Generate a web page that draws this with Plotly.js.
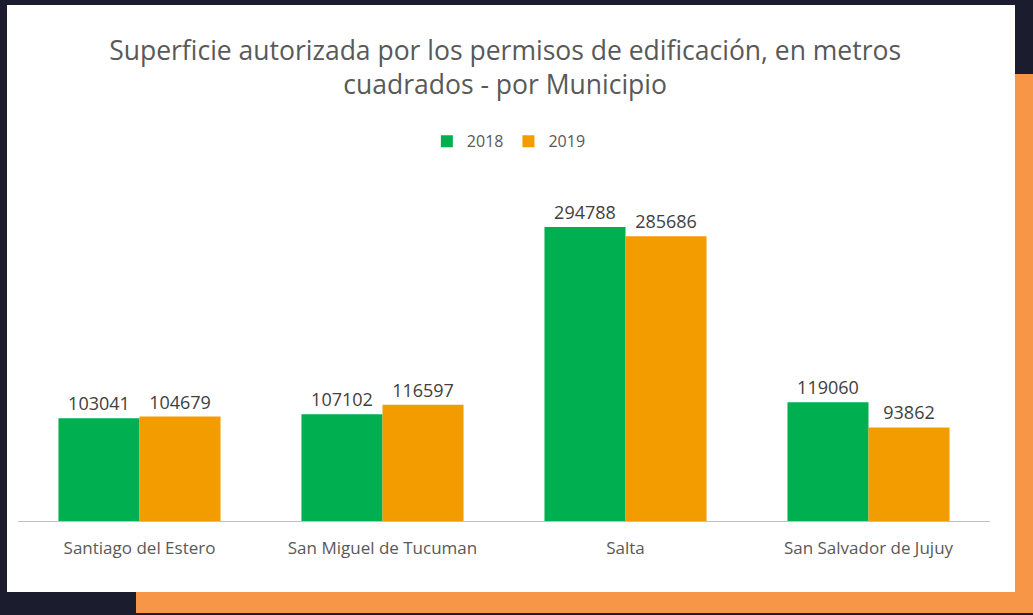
<!DOCTYPE html>
<html>
<head>
<meta charset="utf-8">
<script src="https://cdn.plot.ly/plotly-3.0.1.min.js"></script>
<style>
  html, body { margin: 0; padding: 0; background: #1b1d2e; width: 1033px; height: 615px; overflow: hidden; }
  #orange { position: absolute; left: 136px; top: 74px; width: 897px; height: 539px; background: #f79646; }
  #card { position: absolute; left: 7px; top: 5px; width: 1008px; height: 587px; background: #ffffff; }
  #chart { position: absolute; left: 0; top: 0; width: 1033px; height: 615px; }
</style>
</head>
<body>
<div id="orange"></div>
<div id="card"></div>
<div id="chart"></div>
<script>
const municipios = ["Santiago del Estero", "San Miguel de Tucuman", "Salta", "San Salvador de Jujuy"];
const valores2018 = [103041, 107102, 294788, 119060];
const valores2019 = [104679, 116597, 285686, 93862];

const fontFamily = "'Open Sans', Lato, sans-serif";

const traces = [
  {
    type: "bar",
    name: "2018",
    x: municipios,
    y: valores2018,
    marker: { color: "#00b050" },
    text: valores2018.map(String),
    textposition: "outside",
    textfont: { size: 18, color: "#404040", family: fontFamily },
    cliponaxis: false,
    hoverinfo: "x+y",
  },
  {
    type: "bar",
    name: "2019",
    x: municipios,
    y: valores2019,
    marker: { color: "#f39c00" },
    text: valores2019.map(String),
    textposition: "outside",
    textfont: { size: 18, color: "#404040", family: fontFamily },
    cliponaxis: false,
    hoverinfo: "x+y",
  },
];

const layout = {
  width: 1033,
  height: 615,
  paper_bgcolor: "rgba(0,0,0,0)",
  plot_bgcolor: "rgba(0,0,0,0)",
  margin: { l: 18, r: 43, t: 172, b: 94 },
  font: { family: fontFamily, color: "#595959" },
  title: {
    text: "Superficie autorizada por los permisos de edificación, en metros<br>cuadrados - por Municipio",
    font: { size: 26.5, color: "#595959", family: fontFamily, lineposition: "none" },
    xref: "container",
    yref: "container",
    x: 0.489,
    xanchor: "center",
    y: 1 - 60 / 615,
    yanchor: "top",
  },
  barmode: "group",
  bargap: 0.333,
  bargroupgap: 0,
  showlegend: true,
  legend: {
    orientation: "h",
    x: 0.505,
    xanchor: "center",
    y: 1.088,
    yanchor: "middle",
    font: { size: 16, color: "#595959", family: fontFamily },
    itemwidth: 30,
  },
  xaxis: {
    showline: true,
    linecolor: "#bfbfbf",
    linewidth: 1,
    ticks: "",
    ticklabelstandoff: 12,
    tickfont: { size: 17, color: "#595959", family: fontFamily },
    showgrid: false,
    fixedrange: true,
  },
  yaxis: {
    range: [0, 350000],
    visible: false,
    showgrid: false,
    zeroline: false,
    fixedrange: true,
  },
};

Plotly.newPlot("chart", traces, layout, { displayModeBar: false, responsive: false });
</script>
</body>
</html>
